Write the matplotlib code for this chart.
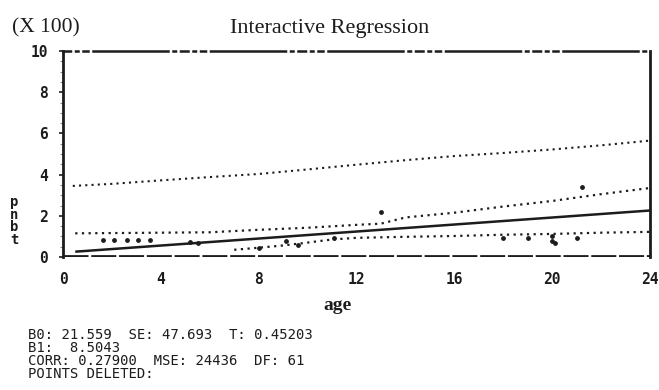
import matplotlib
matplotlib.use("Agg")
import matplotlib.pyplot as plt
from matplotlib.ticker import MultipleLocator

# ---- data (units of 100) ----
fit_x = [0.5, 24.0]
fit_y = [0.258, 2.257]

pred_up_x = [0.4, 2, 4, 6, 8, 10, 12, 14, 16, 18, 20, 22, 24]
pred_up_y = [3.45, 3.55, 3.72, 3.88, 4.03, 4.25, 4.48, 4.7, 4.9, 5.05, 5.22, 5.42, 5.65]

conf_up_x = [0.5, 3, 6, 8, 10, 12, 13, 14, 16, 18, 20, 22, 24]
conf_up_y = [1.15, 1.17, 1.2, 1.32, 1.42, 1.56, 1.62, 1.92, 2.15, 2.45, 2.72, 3.05, 3.35]

conf_lo_x = [7, 8, 9, 10, 11, 12, 14, 16, 18, 20, 22, 24]
conf_lo_y = [0.35, 0.45, 0.56, 0.7, 0.85, 0.93, 0.98, 1.02, 1.08, 1.12, 1.18, 1.22]

pts_x = [1.64, 2.1, 2.6, 3.07, 3.57, 5.2, 5.5, 8.0, 9.1, 9.6, 11.1, 13.0, 18.0, 19.0, 20.0, 20.0, 20.1, 21.0, 21.2]
pts_y = [0.83, 0.83, 0.83, 0.83, 0.83, 0.75, 0.68, 0.43, 0.78, 0.58, 0.93, 2.2, 0.93, 0.93, 1.0, 0.8, 0.68, 0.93, 3.4]

zero_x = [0.0, 24.0]
zero_y = [0.03, 0.03]

x_ticks = [0, 4, 8, 12, 16, 20, 24]
x_labels = ["0", "4", "8", "12", "16", "20", "24"]
y_ticks = [0, 2, 4, 6, 8, 10]
y_labels = ["0", "2", "4", "6", "8", "10"]

stats_lines = [
    "B0: 21.559  SE: 47.693  T: 0.45203",
    "B1:  8.5043",
    "CORR: 0.27900  MSE: 24436  DF: 61",
    "POINTS DELETED:",
]

ink = "#1c1c1c"
mono = ["DejaVu Sans Mono"]
serif = ["Liberation Serif", "DejaVu Serif"]

W, H = 659, 390
fig = plt.figure(figsize=(W / 100, H / 100), dpi=100)
fig.patch.set_facecolor("white")
L, R, T, B = 63, 650, 51, 257
ax = fig.add_axes([L / W, 1 - B / H, (R - L) / W, (B - T) / H])

dot = (0, (1, 2))
ax.plot(pred_up_x, pred_up_y, color=ink, lw=1.5, linestyle=dot)
ax.plot(conf_up_x, conf_up_y, color=ink, lw=1.6, linestyle=dot)
ax.plot(conf_lo_x, conf_lo_y, color=ink, lw=1.6, linestyle=dot)
ax.plot(fit_x, fit_y, color=ink, lw=1.8, solid_capstyle="butt")
ax.scatter(pts_x, pts_y, s=6, color=ink, zorder=3)
ax.plot(zero_x, zero_y, color=ink, lw=2.0, linestyle=(0, (9, 1)))

ax.set_xlim(0, 24)
ax.set_ylim(0, 10)
ax.set_xticks(x_ticks)
ax.set_xticklabels(x_labels)
ax.set_yticks(y_ticks)
ax.set_yticklabels(y_labels)
ax.yaxis.set_minor_locator(MultipleLocator(0.5))

ax.tick_params(axis="x", length=0, pad=11, labelsize=10.5, labelcolor=ink)
ax.tick_params(axis="y", which="major", length=3, width=1.2, direction="out",
               pad=8, labelsize=10.5, labelcolor=ink, color=ink)
ax.tick_params(axis="y", which="minor", length=2, width=0.8, direction="out", color="#888888")
for lab in ax.get_xticklabels() + ax.get_yticklabels():
    lab.set_family(mono)
    lab.set_fontweight("bold")

for side in ["left", "right"]:
    ax.spines[side].set_linewidth(2.0)
    ax.spines[side].set_color(ink)
ax.spines["top"].set_linewidth(1.8)
ax.spines["top"].set_color(ink)
ax.spines["top"].set_linestyle((0, (3, 2, 1, 2, 2, 2, 30, 2, 1, 2)))
ax.spines["bottom"].set_visible(False)

# texts
fig.text(12 / W, 1 - 28 / H, "(X 100)", family=serif, fontsize=15.5,
         color=ink, ha="left", va="center")
fig.text(330 / W, 1 - 28 / H, "Interactive Regression", family=serif, fontsize=16,
         color=ink, ha="center", va="center")
fig.text(338 / W, 1 - 305 / H, "age", family=serif, fontsize=14, fontweight="bold",
         color=ink, ha="center", va="center")
fig.text(14 / W, 1 - 221 / H, "p\nn\nb\nt", family=mono, fontsize=10, fontweight="bold",
         color=ink, ha="center", va="center", linespacing=0.85)

fig.text(28 / W, 1 - 328 / H, "\n".join(stats_lines), family=mono, fontsize=10,
         color=ink, ha="left", va="top", linespacing=0.92)

fig.savefig("out.png", dpi=100, facecolor="white")
